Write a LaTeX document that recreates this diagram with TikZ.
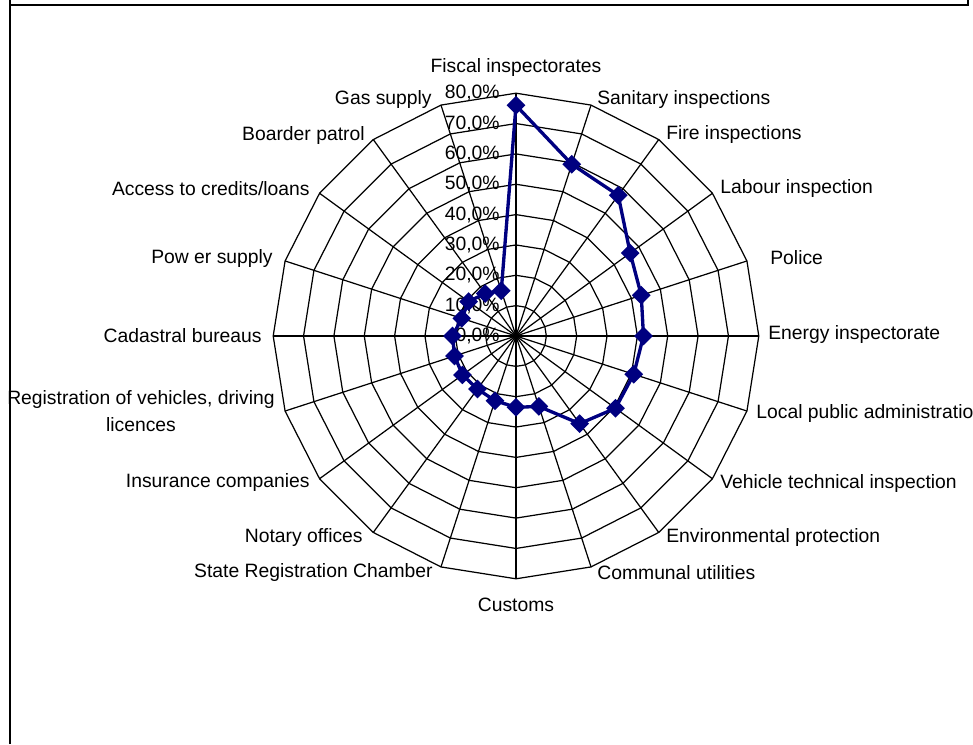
\documentclass[tikz,border=0pt]{standalone}
\usepackage{fontspec}
\setmainfont{Liberation Sans}
\usetikzlibrary{shapes.geometric}
\definecolor{chartblue}{RGB}{0,0,128}
\tikzset{
	grid line/.style={black, line width=0.7pt},
	cat label/.style={inner sep=0pt, font=\fontsize{11}{15.3}\selectfont},
	val label/.style={inner sep=0pt, anchor=east, font=\fontsize{11}{13}\selectfont},
	marker/.style={diamond, fill=chartblue, inner sep=0pt, minimum size=0.38cm},
	series/.style={chartblue, line width=1.9pt, line join=round},
}
\begin{document}
\begin{tikzpicture}[x=0.02cm, y=0.02cm]
	\useasboundingbox (-516,-408) rectangle (457,336);
	% frame
	\draw[line width=1.1pt] (-506,-408) -- (-506,336);
	\draw[line width=0.8pt] (-506,336) -- (-506,331) -- (452,331) -- (452,336);
	% spokes and rings
	\foreach \i in {0,...,19}
		\draw[grid line] (0,0) -- ({90-18*\i}:243);
	\foreach \k in {1,...,8}
		\draw[grid line] (90:{\k*30.35}) \foreach \i in {1,...,19} {-- ({90-18*\i}:{\k*30.35})} -- cycle;
	% value axis
	\foreach \t [count=\k from 0] in {0,10,...,80}
		\node[val label] (v\k) at (-16,{\k*30.35}) {\t,0\%};
	% categories
	\node[cat label] (fiscal) at (0,268) {Fiscal inspectorates};
	\node[cat label, anchor=west] (sanitary) at (81,236) {Sanitary inspections};
	\node[cat label, anchor=west] (fire) at (150,201) {Fire inspections};
	\node[cat label, anchor=west] (labour) at (204,147) {Labour inspection};
	\node[cat label, anchor=west] (police) at (254,78) {Police};
	\node[cat label, anchor=west] (energy) at (252,1) {Energy inspectorate};
	\node[cat label, anchor=west] (localadm) at (240,-77) {Local public administration};
	\node[cat label, anchor=west] (vehicle) at (204,-147) {Vehicle technical inspection};
	\node[cat label, anchor=west] (environ) at (150,-201) {Environmental protection};
	\node[cat label, anchor=west] (communal) at (81,-237) {Communal utilities};
	\node[cat label] (customs) at (0,-269) {Customs};
	\node[cat label, anchor=east] (statereg) at (-83,-236) {State Registration Chamber};
	\node[cat label, anchor=east] (notary) at (-153,-201) {Notary offices};
	\node[cat label, anchor=east] (insurance) at (-206,-146) {Insurance companies};
	\node[cat label, align=center] (registr) at (-375,-75.5) {Registration of vehicles, driving\\licences};
	\node[cat label, anchor=east] (cadastral) at (-254,0) {Cadastral bureaus};
	\node[cat label, anchor=east] (power) at (-243,77) {Pow er supply};
	\node[cat label, anchor=east] (access) at (-206,147) {Access to credits/loans};
	\node[cat label, anchor=east] (boarder) at (-151,200) {Boarder patrol};
	\node[cat label, anchor=east] (gas) at (-84,236) {Gas supply};
	% data
	\foreach \v [count=\i from 0] in {76,59.5,57.3,46.5,43.4,42,40.8,40.5,35.7,24.4,23.5,22.4,21.6,21.8,21.3,20.9,18.8,19.3,17.3,15.7}
		\coordinate (p\i) at ({90-18*\i}:{\v*3.035});
	\draw[series] (p0) \foreach \i in {1,...,19} {-- (p\i)} -- cycle;
	\foreach \i in {0,...,19}
		\node[marker] (m\i) at (p\i) {};
\end{tikzpicture}
\end{document}
